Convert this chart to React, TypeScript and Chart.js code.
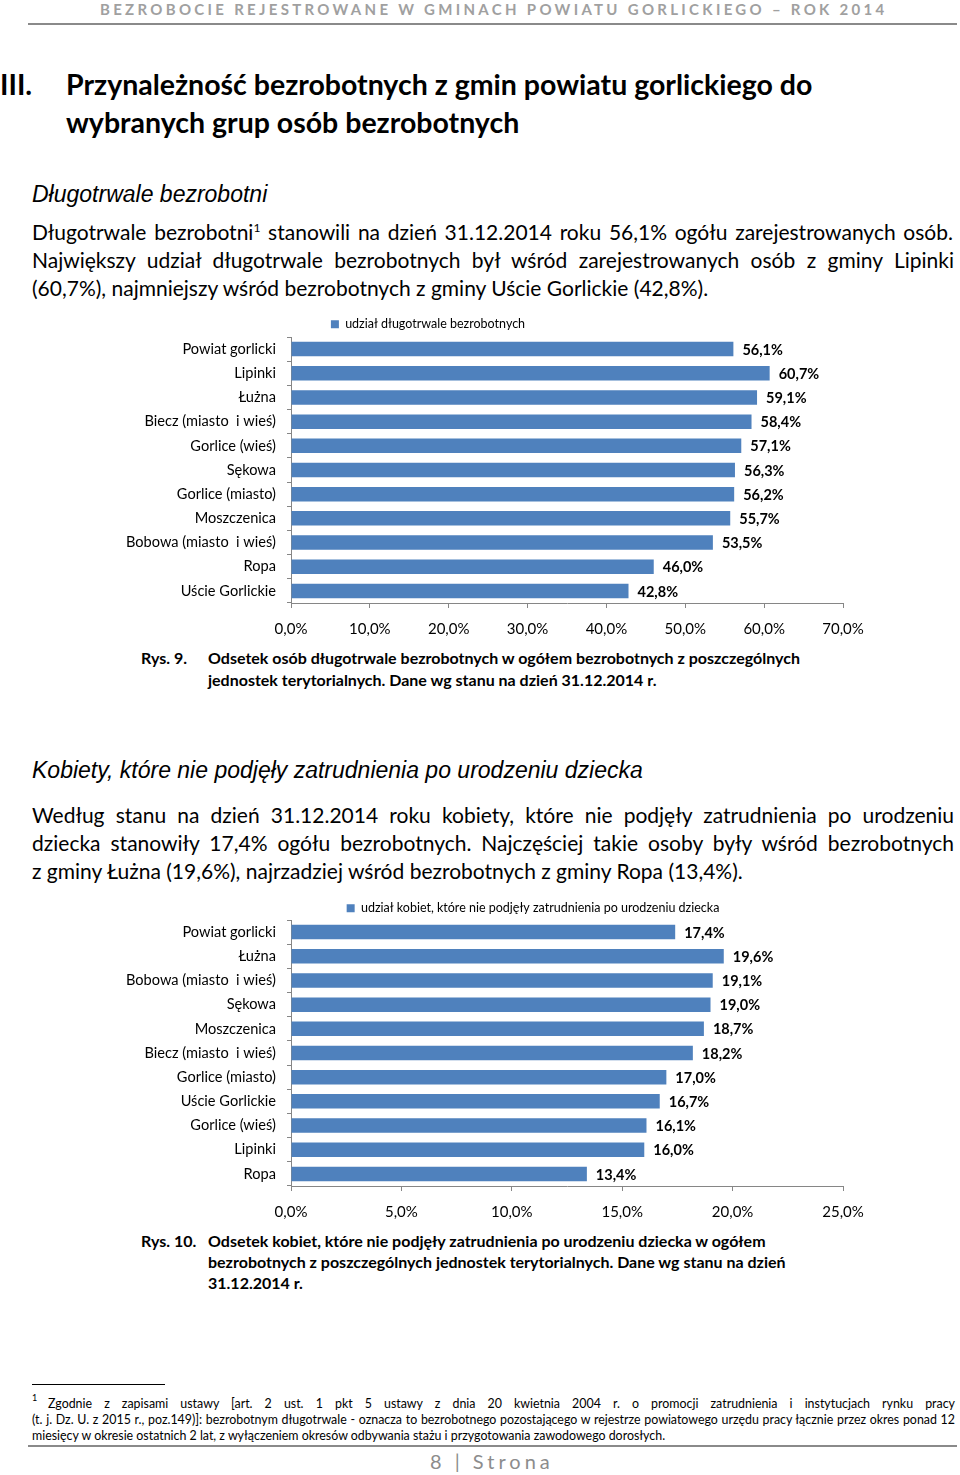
import React, { useEffect, useRef } from "react";
import { Chart, registerables } from "chart.js";

Chart.register(...registerables);

const FONT = "Lato, 'Open Sans', sans-serif";
const BLUE = "#4F81BD";
const AXIS = "#868686";

// Rys. 9 data
const categories1 = [
  "Powiat gorlicki",
  "Lipinki",
  "Łużna",
  "Biecz (miasto  i wieś)",
  "Gorlice (wieś)",
  "Sękowa",
  "Gorlice (miasto)",
  "Moszczenica",
  "Bobowa (miasto  i wieś)",
  "Ropa",
  "Uście Gorlickie",
];
const values1 = [56.1, 60.7, 59.1, 58.4, 57.1, 56.3, 56.2, 55.7, 53.5, 46.0, 42.8];
const legend1 = "udział długotrwale bezrobotnych";
const axisMax1 = 70;
const axisStep1 = 10;

// Rys. 10 data
const categories2 = [
  "Powiat gorlicki",
  "Łużna",
  "Bobowa (miasto  i wieś)",
  "Sękowa",
  "Moszczenica",
  "Biecz (miasto  i wieś)",
  "Gorlice (miasto)",
  "Uście Gorlickie",
  "Gorlice (wieś)",
  "Lipinki",
  "Ropa",
];
const values2 = [17.4, 19.6, 19.1, 19.0, 18.7, 18.2, 17.0, 16.7, 16.1, 16.0, 13.4];
const legend2 = "udział kobiet, które nie podjęły zatrudnienia po urodzeniu dziecka";
const axisMax2 = 25;
const axisStep2 = 5;

const fmt = (v: number) => v.toFixed(1).replace(".", ",") + "%";

const valueLabels = {
  id: "valueLabels",
  afterDatasetsDraw(chart: any) {
    const ctx = chart.ctx;
    const meta = chart.getDatasetMeta(0);
    const data = chart.data.datasets[0].data as number[];
    ctx.save();
    ctx.font = `bold 14.5px ${FONT}`;
    ctx.fillStyle = "#000";
    ctx.textAlign = "left";
    ctx.textBaseline = "middle";
    meta.data.forEach((bar: any, i: number) => {
      ctx.fillText(fmt(data[i]), bar.x + 9, bar.y + 1);
    });
    ctx.restore();
  },
};

type BarProps = {
  labels: string[];
  values: number[];
  legend: string;
  max: number;
  step: number;
  left: number;
  top: number;
  width: number;
  height: number;
  padR: number;
  yWidth: number;
  rightW: number;
  legendH: number;
};

function BarChart(p: BarProps) {
  const ref = useRef<HTMLCanvasElement>(null);
  useEffect(() => {
    const chart = new Chart(ref.current as HTMLCanvasElement, {
      type: "bar",
      data: {
        labels: p.labels,
        datasets: [
          {
            label: p.legend,
            data: p.values,
            backgroundColor: BLUE,
            barPercentage: 0.6,
            categoryPercentage: 1,
            yAxisID: "y",
          },
        ],
      },
      options: {
        indexAxis: "y",
        animation: false,
        responsive: false,
        maintainAspectRatio: false,
        layout: { padding: { left: 0, right: p.padR, top: 0, bottom: 0 } },
        plugins: {
          legend: {
            display: true,
            position: "top",
            maxHeight: p.legendH,
            labels: {
              boxWidth: 8,
              boxHeight: 8,
              padding: 8,
              color: "#000",
              font: { family: FONT, size: 12.5 },
            },
          },
          tooltip: { enabled: false },
        },
        scales: {
          x: {
            min: 0,
            max: p.max,
            ticks: {
              stepSize: p.step,
              callback: (v: any) => fmt(Number(v)),
              color: "#000",
              font: { family: FONT, size: 15 },
              padding: 12,
            },
            grid: { drawOnChartArea: false, drawTicks: true, tickLength: 5, color: AXIS },
            border: { display: true, color: AXIS },
            afterFit: (s: any) => {
              s.height = 40;
              s.paddingLeft = 0;
              s.paddingRight = 0;
            },
          },
          y: {
            ticks: {
              color: "#000",
              font: { family: FONT, size: 14.6 },
              padding: 11,
            },
            grid: { drawOnChartArea: false, drawTicks: true, tickLength: 4, color: AXIS, offset: true },
            border: { display: true, color: AXIS },
            afterFit: (s: any) => {
              s.width = p.yWidth;
              s.paddingTop = 0;
              s.paddingBottom = 0;
            },
          },
          yRight: {
            type: "category",
            axis: "y",
            position: "right",
            display: p.rightW > 0,
            ticks: { display: false },
            grid: { display: false },
            border: { display: false },
            afterFit: (s: any) => {
              s.width = p.rightW;
              s.paddingTop = 0;
              s.paddingBottom = 0;
            },
          },
        },
      } as any,
      plugins: [valueLabels],
    });
    return () => chart.destroy();
  }, []);
  return (
    <canvas
      ref={ref}
      width={p.width}
      height={p.height}
      style={{ position: "absolute", left: p.left, top: p.top, width: p.width, height: p.height }}
    />
  );
}

type TxtProps = {
  x: number;
  y: number;
  size: number;
  w?: number;
  justify?: boolean;
  style?: React.CSSProperties;
  children: React.ReactNode;
};

function Txt({ x, y, size, w, justify, style, children }: TxtProps) {
  return (
    <div
      style={{
        position: "absolute",
        left: x,
        top: y - size * 0.6,
        width: w,
        fontSize: size,
        lineHeight: size * 1.2 + "px",
        whiteSpace: "nowrap",
        fontFamily: FONT,
        color: "#000",
        textAlign: justify ? "justify" : "left",
        textAlignLast: justify ? "justify" : "auto",
        ...style,
      }}
    >
      {children}
    </div>
  );
}

const ITALIC: React.CSSProperties = {
  fontFamily: "'Liberation Sans', Arial, sans-serif",
  fontStyle: "italic",
};
const BOLD: React.CSSProperties = { fontWeight: "bold" };

export default function App() {
  return (
    <div
      style={{
        position: "absolute",
        left: 0,
        top: 0,
        width: 960,
        height: 1475,
        overflow: "hidden",
        background: "#fff",
      }}
    >
      <Txt x={100} y={9} size={15} style={{ color: "#a0a0a0", letterSpacing: 3.3, fontWeight: "bold" }}>
        BEZROBOCIE REJESTROWANE W GMINACH POWIATU GORLICKIEGO – ROK 2014
      </Txt>
      <div style={{ position: "absolute", left: 28, top: 23, width: 929, height: 1.5, background: "#8a8a8a" }} />

      <Txt x={0} y={84} size={28.5} style={BOLD}>III.</Txt>
      <Txt x={66} y={84} size={28.5} style={BOLD}>
        Przynależność bezrobotnych z gmin powiatu gorlickiego do
      </Txt>
      <Txt x={66} y={122} size={28.5} style={BOLD}>
        wybranych grup osób bezrobotnych
      </Txt>

      <Txt x={32} y={195} size={23} style={ITALIC}>Długotrwale bezrobotni</Txt>

      <Txt x={32} y={232} size={21} w={921} justify>
        Długotrwale bezrobotni
        <sup style={{ fontSize: 12, lineHeight: 0 }}>1</sup> stanowili na dzień 31.12.2014 roku 56,1% ogółu
        zarejestrowanych osób.
      </Txt>
      <Txt x={32} y={260} size={21} w={922} justify>
        Największy udział długotrwale bezrobotnych był wśród zarejestrowanych osób z gminy Lipinki
      </Txt>
      <Txt x={32} y={288} size={21}>
        (60,7%), najmniejszy wśród bezrobotnych z gminy Uście Gorlickie (42,8%).
      </Txt>

      <BarChart
        labels={categories1}
        values={values1}
        legend={legend1}
        max={axisMax1}
        step={axisStep1}
        left={13}
        top={310}
        width={860}
        height={333}
        padR={30}
        yWidth={278}
        rightW={0}
        legendH={27}
      />

      <Txt x={141} y={658} size={16} style={BOLD}>Rys. 9.</Txt>
      <Txt x={208} y={658} size={16} style={BOLD}>
        Odsetek osób długotrwale bezrobotnych w ogółem bezrobotnych z poszczególnych
      </Txt>
      <Txt x={208} y={680} size={16} style={BOLD}>
        jednostek terytorialnych. Dane wg stanu na dzień 31.12.2014 r.
      </Txt>

      <Txt x={32} y={771} size={23} style={ITALIC}>
        Kobiety, które nie podjęły zatrudnienia po urodzeniu dziecka
      </Txt>

      <Txt x={32} y={815} size={21} w={922} justify>
        Według stanu na dzień 31.12.2014 roku kobiety, które nie podjęły zatrudnienia po urodzeniu
      </Txt>
      <Txt x={32} y={843} size={21} w={922} justify>
        dziecka stanowiły 17,4% ogółu bezrobotnych. Najczęściej takie osoby były wśród bezrobotnych
      </Txt>
      <Txt x={32} y={871} size={21}>
        z gminy Łużna (19,6%), najrzadziej wśród bezrobotnych z gminy Ropa (13,4%).
      </Txt>

      <BarChart
        labels={categories2}
        values={values2}
        legend={legend2}
        max={axisMax2}
        step={axisStep2}
        left={110}
        top={894}
        width={850}
        height={332}
        padR={4}
        yWidth={181}
        rightW={113}
        legendH={26}
      />

      <Txt x={141} y={1241} size={16} style={BOLD}>Rys. 10.</Txt>
      <Txt x={208} y={1241} size={16} style={BOLD}>
        Odsetek kobiet, które nie podjęły zatrudnienia po urodzeniu dziecka w ogółem
      </Txt>
      <Txt x={208} y={1262} size={16} style={BOLD}>
        bezrobotnych z poszczególnych jednostek terytorialnych. Dane wg stanu na dzień
      </Txt>
      <Txt x={208} y={1283} size={16} style={BOLD}>
        31.12.2014 r.
      </Txt>

      <div style={{ position: "absolute", left: 32, top: 1384, width: 133, height: 1, background: "#000" }} />
      <Txt x={32} y={1398} size={9}>1</Txt>
      <Txt x={48} y={1404} size={12.4} w={907} justify>
        Zgodnie z zapisami ustawy [art. 2 ust. 1 pkt 5 ustawy z dnia 20 kwietnia 2004 r. o promocji zatrudnienia i instytucjach rynku pracy
      </Txt>
      <Txt x={32} y={1420} size={12.4} w={923} justify>
        (t. j. Dz. U. z 2015 r., poz.149)]: bezrobotnym długotrwale - oznacza to bezrobotnego pozostającego w rejestrze powiatowego urzędu pracy łącznie przez okres ponad 12
      </Txt>
      <Txt x={32} y={1436} size={12.4}>
        miesięcy w okresie ostatnich 2 lat, z wyłączeniem okresów odbywania stażu i przygotowania zawodowego dorosłych.
      </Txt>
      <div style={{ position: "absolute", left: 28, top: 1445, width: 929, height: 1.5, background: "#8a8a8a" }} />

      <Txt x={430} y={1461} size={20} style={{ color: "#8c8c8c", letterSpacing: 4 }}>
        8 | Strona
      </Txt>
    </div>
  );
}
